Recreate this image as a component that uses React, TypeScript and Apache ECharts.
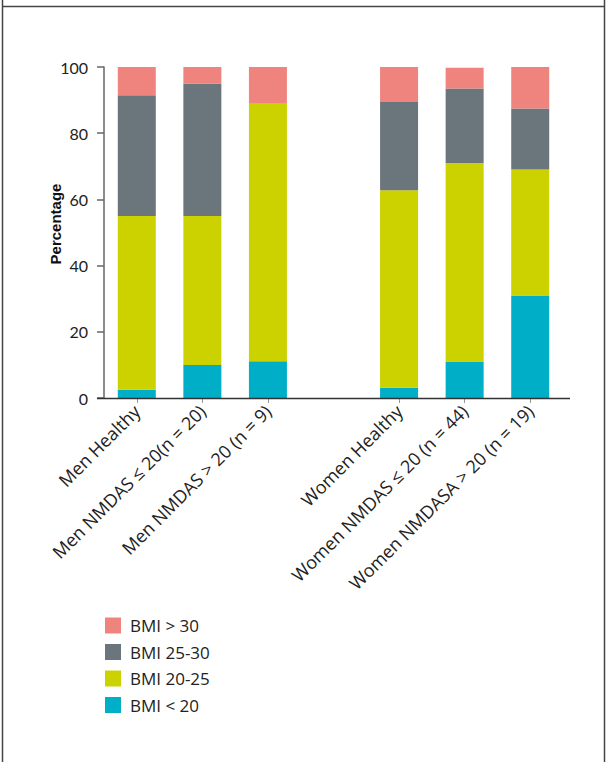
import React, { useEffect, useRef } from "react";
import * as echarts from "echarts";

const categories = [
  "Men Healthy",
  "Men NMDAS ≤ 20(n = 20)",
  "Men NMDAS > 20 (n = 9)",
  "",
  "Women Healthy",
  "Women NMDAS ≤ 20 (n = 44)",
  "Women NMDASA > 20 (n = 19)",
];
const bmiUnder20 = [2.5, 10, 11.1, null, 3.1, 11, 31];
const bmi20to25 = [52.5, 45, 77.8, null, 59.7, 60, 38];
const bmi25to30 = [36.5, 40, 0, null, 26.6, 22.5, 18.5];
const bmiOver30 = [8.5, 5, 11.1, null, 10.6, 6.3, 12.5];
const yTicks = [0, 20, 40, 60, 80, 100];
const legendOrder = ["BMI > 30", "BMI 25-30", "BMI 20-25", "BMI < 20"];
const colors = {
  under20: "#00aec8",
  b20to25: "#ccd100",
  b25to30: "#6b767c",
  over30: "#ef847f",
};

const FONT = "Lato, 'Open Sans', sans-serif";
const WIDE = "'Open Sans', Lato, sans-serif";

export default function App() {
  const ref = useRef<HTMLDivElement>(null);
  useEffect(() => {
    if (!ref.current) return;
    const chart = echarts.init(ref.current, undefined, { renderer: "svg" });
    const mk = (name: string, data: (number | null)[], color: string) => ({
      name,
      type: "bar",
      stack: "bmi",
      barWidth: 38,
      data: data.map((v) => (v === null ? "-" : v)),
      itemStyle: { color },
    });
    chart.setOption({
      animation: false,
      backgroundColor: "#fff",
      textStyle: { fontFamily: FONT },
      grid: { left: 104, right: 44, top: 67, bottom: 364, containLabel: false },
      legend: {
        orient: "vertical",
        left: 100,
        top: 612,
        icon: "rect",
        itemWidth: 16,
        itemHeight: 16,
        itemGap: 9.5,
        itemStyle: { borderWidth: 0 },
        data: legendOrder,
        textStyle: { fontSize: 17, color: "#222", fontFamily: WIDE, padding: [0, 0, 0, 4] },
        selectedMode: false,
      },
      xAxis: {
        type: "category",
        data: categories,
        axisLine: { show: false },
        axisTick: {
          show: true,
          alignWithLabel: true,
          length: 5,
          lineStyle: { color: "#999" },
          interval: (_i: number, v: string) => v !== "",
        },
        axisLabel: {
          interval: 0,
          rotate: 45,
          margin: 10,
          fontSize: 18,
          color: "#222",
          fontFamily: WIDE,
        },
      },
      yAxis: {
        type: "value",
        min: 0,
        max: 100,
        interval: 20,
        axisLine: { show: true, lineStyle: { color: "#666", width: 1.5 } },
        axisTick: { show: true, length: 7, lineStyle: { color: "#666", width: 1.5 } },
        splitLine: { show: false },
        axisLabel: {
          margin: 16,
          fontSize: 16,
          color: "#222",
          fontFamily: FONT,
          formatter: (v: number) => (yTicks.includes(v) ? String(v) : ""),
        },
      },
      series: [
        mk("BMI < 20", bmiUnder20, colors.under20),
        mk("BMI 20-25", bmi20to25, colors.b20to25),
        mk("BMI 25-30", bmi25to30, colors.b25to30),
        mk("BMI > 30", bmiOver30, colors.over30),
      ],
      graphic: [
        { type: "line", shape: { x1: 2.5, y1: 0, x2: 2.5, y2: 762 }, style: { stroke: "#444", lineWidth: 1.5 } },
        { type: "line", shape: { x1: 604.5, y1: 0, x2: 604.5, y2: 762 }, style: { stroke: "#444", lineWidth: 1.5 } },
        { type: "line", shape: { x1: 2, y1: 6.5, x2: 605, y2: 6.5 }, style: { stroke: "#444", lineWidth: 1.5 } },
        { type: "line", shape: { x1: 97, y1: 398.5, x2: 570, y2: 398.5 }, style: { stroke: "#333", lineWidth: 1.5 }, z: 10 },
        {
          type: "text",
          x: 55,
          y: 224,
          rotation: Math.PI / 2,
          style: {
            text: "Percentage",
            fontSize: 15,
            fontWeight: "bold",
            fontFamily: "'Liberation Sans', Arial, sans-serif",
            fill: "#111",
            textAlign: "center",
            textVerticalAlign: "middle",
          },
        },
      ],
    });
    return () => chart.dispose();
  }, []);
  return (
    <div
      ref={ref}
      style={{ position: "fixed", left: 0, top: 0, width: 607, height: 762 }}
    />
  );
}
